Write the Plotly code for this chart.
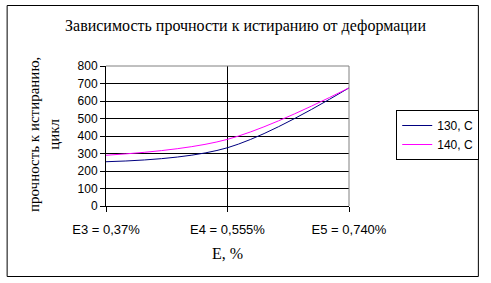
import plotly.graph_objects as go

categories = ["E3 = 0,37%", "E4 = 0,555%", "E5 = 0,740%"]
series_130 = [253, 333, 675]
series_140 = [290, 381, 675]
series_names = ["130, C", "140, C"]
y_ticks = [0, 100, 200, 300, 400, 500, 600, 700, 800]

W, H = 491, 283
L, R, T, B = 106, 353, 66, 206

def px_x(p):
    return (p - L) / (R - L)

def px_y(p):
    return (B - p) / (B - T)

fig = go.Figure()
fig.add_trace(go.Scatter(x=categories, y=series_130, name=series_names[0], mode="lines",
                         line=dict(color="#000080", width=1, shape="spline", smoothing=1.0)))
fig.add_trace(go.Scatter(x=categories, y=series_140, name=series_names[1], mode="lines",
                         line=dict(color="#FF00FF", width=1, shape="spline", smoothing=1.0)))

fig.update_layout(
    width=W, height=H,
    margin=dict(l=L, r=W - R, t=T, b=H - B),
    paper_bgcolor="white", plot_bgcolor="white",
    title=dict(text="Зависимость прочности к истиранию от деформации",
               x=0.5, xref="container", xanchor="center", y=1 - 25 / H, yanchor="middle",
               font=dict(family="Liberation Serif", size=16, color="black")),
    xaxis=dict(type="category", range=[0, 2], showgrid=True, gridcolor="black", gridwidth=1,
               showline=True, linecolor="black", linewidth=1, ticks="outside", ticklen=5,
               tickcolor="black", ticklabelstandoff=6,
               tickfont=dict(family="Liberation Sans", size=13, color="black"),
               title=dict(text="E, %", font=dict(family="Liberation Serif", size=16, color="black"),
                          standoff=12)),
    yaxis=dict(range=[0, 800], tickvals=y_ticks, showgrid=True, gridcolor="black", gridwidth=1,
               showline=True, linecolor="black", linewidth=1, ticks="outside", ticklen=5,
               tickcolor="black", zeroline=False,
               tickfont=dict(family="Liberation Sans", size=12, color="black")),
    legend=dict(x=px_x(401), y=px_y(110), xanchor="left", yanchor="top",
                bordercolor="black", borderwidth=1, bgcolor="white",
                font=dict(family="Liberation Sans", size=12, color="black"),
                tracegroupgap=0, itemwidth=30),
    showlegend=True,
    shapes=[
        dict(type="rect", xref="paper", yref="paper", x0=px_x(5.5), x1=px_x(484.5),
             y0=px_y(276.5), y1=px_y(5.5), line=dict(color="black", width=1), layer="below"),
        dict(type="line", xref="paper", yref="paper", x0=0, x1=1, y0=1, y1=1,
             line=dict(color="#808080", width=1), layer="above"),
        dict(type="line", xref="paper", yref="paper", x0=1, x1=1, y0=0, y1=1,
             line=dict(color="#808080", width=1), layer="above"),
    ],
    annotations=[
        dict(text="прочность к истиранию,<br>цикл", textangle=-90, xref="paper", yref="paper",
             x=px_x(43), y=px_y(135), xanchor="center", yanchor="middle", showarrow=False,
             font=dict(family="Liberation Serif", size=15, color="black")),
    ],
)

fig.write_html("out.html")
